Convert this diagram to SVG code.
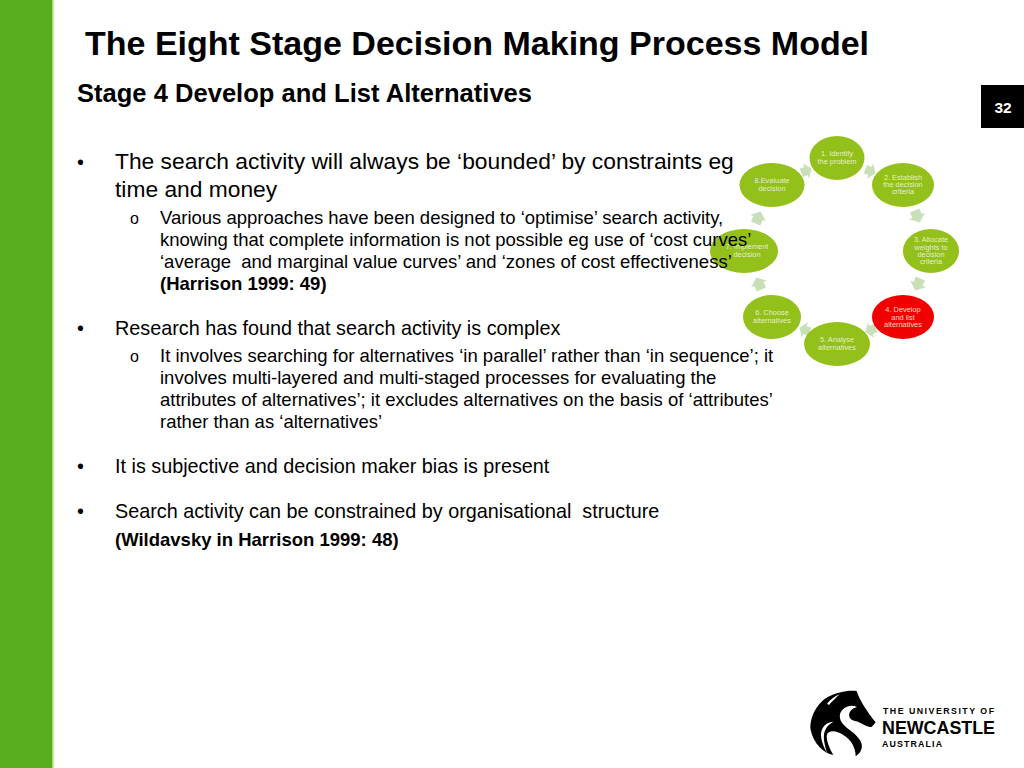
<svg xmlns="http://www.w3.org/2000/svg" width="1024" height="768" viewBox="0 0 1024 768">
<style>
text{font-family:"Liberation Sans",Arial,sans-serif;fill:#000;white-space:pre}
.b{font-size:22.8px}
.s{font-size:18.5px}
.m{font-size:19.8px}
.bd{font-weight:700}
.n text{fill:#f4f8e0;font-size:7.4px;text-anchor:middle;opacity:.85}
.g{fill:#93c01a}
.a{fill:#c9dfb8}
</style>
<rect x="0" y="0" width="1024" height="768" fill="#fff"/>
<rect x="0" y="0" width="52" height="768" fill="#58ae1e"/>
<rect x="52" y="0" width="1.500" height="768" fill="#a4dc5c"/>
<rect x="981" y="85" width="43" height="43" fill="#000"/>
<text x="1003" y="113" font-size="15.500" font-weight="700" text-anchor="middle" style="fill:#fff">32</text>

<g id="connectors">
<path class="a" transform="translate(870 171) rotate(22) scale(1 1.100)" d="M-5 -4H0V-7.500L6 0L0 7.500V4H-5Z"/>
<path class="a" transform="translate(917 216) rotate(67)" d="M-6 -5H0V-8.500L7 0L0 8.500V5H-6Z"/>
<path class="a" transform="translate(918 284) rotate(113)" d="M-6 -5H0V-8.500L7 0L0 8.500V5H-6Z"/>
<path class="a" transform="translate(871 330) rotate(158) scale(1 1.100)" d="M-5 -4H0V-7.500L6 0L0 7.500V4H-5Z"/>
<path class="a" transform="translate(805 330) rotate(202) scale(1 1.100)" d="M-5 -4H0V-7.500L6 0L0 7.500V4H-5Z"/>
<path class="a" transform="translate(759 284) rotate(247)" d="M-6 -5H0V-8.500L7 0L0 8.500V5H-6Z"/>
<path class="a" transform="translate(758 218) rotate(293)" d="M-6 -5H0V-8.500L7 0L0 8.500V5H-6Z"/>
<path class="a" transform="translate(806 171) rotate(338) scale(1 1.100)" d="M-5 -4H0V-7.500L6 0L0 7.500V4H-5Z"/>
</g>

<g id="node1" class="n"><ellipse class="g" cx="837" cy="158" rx="27.500" ry="22"/><text x="837" y="156">1. Identify</text><text x="837" y="164">the problem</text></g>
<g id="node2" class="n"><ellipse class="g" cx="903" cy="185" rx="31" ry="22"/><text x="903" y="180">2. Establish</text><text x="903" y="187">the decision</text><text x="903" y="194">criteria</text></g>
<g id="node3" class="n"><ellipse class="g" cx="931" cy="251" rx="28" ry="22"/><text x="931" y="242">3. Allocate</text><text x="931" y="250">weights to</text><text x="931" y="257">decision</text><text x="931" y="264">criteria</text></g>
<g id="node4" class="n"><ellipse cx="903" cy="317" rx="31" ry="22" fill="#f00000"/><text x="903" y="312">4. Develop</text><text x="903" y="320">and list</text><text x="903" y="327">alternatives</text></g>
<g id="node5" class="n"><ellipse class="g" cx="837" cy="344" rx="33" ry="22"/><text x="837" y="342">5. Analyse</text><text x="837" y="350">alternatives</text></g>
<g id="node6" class="n"><ellipse class="g" cx="772" cy="317" rx="29" ry="22"/><text x="772" y="315">6. Choose</text><text x="772" y="323">alternatives</text></g>
<g id="node7" class="n"><ellipse class="g" cx="744" cy="251" rx="34" ry="22"/><text x="747" y="249">7. Implement</text><text x="747" y="257">decision</text></g>
<g id="node8" class="n"><ellipse class="g" cx="772" cy="185" rx="32.500" ry="22"/><text x="772" y="183">8.Evaluate</text><text x="772" y="191">decision</text></g>

<text x="85" y="55" font-size="34" font-weight="700">The Eight Stage Decision Making Process Model</text>
<text x="77" y="102" font-size="25.500" font-weight="700" textLength="455">Stage 4 Develop and List Alternatives</text>

<text class="m" x="77" y="169">•</text>
<text class="b" x="115" y="169">The search activity will always be ‘bounded’ by constraints eg</text>
<text class="b" x="115" y="197">time and money</text>
<text x="130" y="224" font-size="16">o</text>
<text class="s" x="160" y="224">Various approaches have been designed to ‘optimise’ search activity,</text>
<text class="s" x="160" y="246">knowing that complete information is not possible eg use of ‘cost curves’</text>
<text class="s" x="160" y="268">‘average  and marginal value curves’ and ‘zones of cost effectiveness’</text>
<text class="s bd" x="160" y="290">(Harrison 1999: 49)</text>

<text class="m" x="77" y="335">•</text>
<text class="m" x="115" y="335">Research has found that search activity is complex</text>
<text x="130" y="362" font-size="16">o</text>
<text class="s" x="160" y="362">It involves searching for alternatives ‘in parallel’ rather than ‘in sequence’; it</text>
<text class="s" x="160" y="384">involves multi-layered and multi-staged processes for evaluating the</text>
<text class="s" x="160" y="406">attributes of alternatives’; it excludes alternatives on the basis of ‘attributes’</text>
<text class="s" x="160" y="428">rather than as ‘alternatives’</text>

<text class="m" x="77" y="473">•</text>
<text class="m" x="115" y="473">It is subjective and decision maker bias is present</text>
<text class="m" x="77" y="518">•</text>
<text class="m" x="115" y="518">Search activity can be constrained by organisational  structure</text>
<text class="s bd" x="115" y="546">(Wildavsky in Harrison 1999: 48)</text>

<g id="logo">
<g transform="translate(805 685) scale(.3333)">
<path fill="#000" d="M155 18C163 45 190 85 212 112L200 126C185 128 170 112 150 108C135 105 128 92 135 80C140 72 148 68 156 66C135 55 110 68 105 88C102 105 112 118 130 132C155 150 175 170 170 190C168 200 162 208 152 214C152 190 140 165 115 150C95 138 80 135 68 145C60 155 70 185 85 210C55 205 25 175 17 135C12 95 40 50 70 35C95 22 130 14 155 18Z"/>
<path fill="#fff" d="M66 56C76 44 88 34 104 27C94 38 84 46 72 60Z"/>
<path fill="#fff" d="M86 110C66 110 48 125 48 150C49 172 58 188 66 204C60 182 55 165 57 148C60 130 70 118 86 110Z"/>
</g>
<text x="883" y="714" font-size="8.800" font-weight="700" textLength="111" lengthAdjust="spacing">THE UNIVERSITY OF</text>
<text x="882" y="734" font-size="18.500" font-weight="700" textLength="113" lengthAdjust="spacingAndGlyphs">NEWCASTLE</text>
<text x="882" y="747" font-size="8.800" font-weight="700" textLength="60" lengthAdjust="spacing">AUSTRALIA</text>
</g>
</svg>
